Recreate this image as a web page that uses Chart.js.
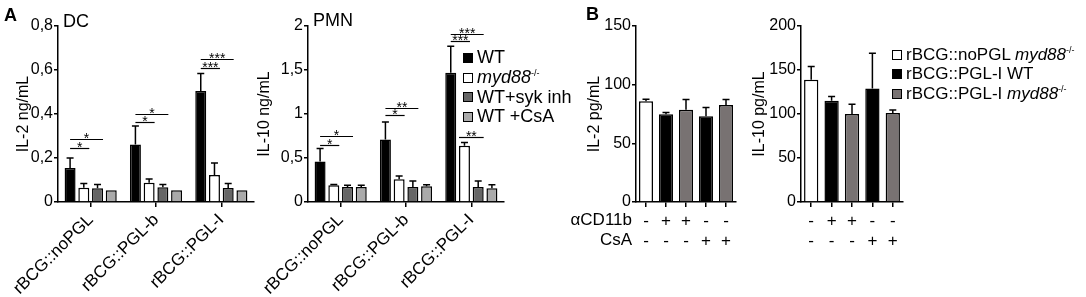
<!DOCTYPE html>
<html>
<head>
<meta charset="utf-8">
<script src="https://cdn.jsdelivr.net/npm/chart.js@4.4.0/dist/chart.umd.min.js"></script>
<style>
  body { margin: 0; background: #fff; font-family: Arial, "Liberation Sans", sans-serif; color: #000; }
  #wrap { position: relative; width: 1086px; height: 297px; overflow: hidden; }
  canvas { position: absolute; left: 0; top: 0; }
  .lbl { position: absolute; white-space: nowrap; line-height: 1; }
  .key { position: absolute; white-space: nowrap; }
  .key div { display: flex; align-items: center; }
  .sw { width: 8px; height: 8px; border: 1.5px solid #000; margin-right: 4px; flex: none; }
  sup { font-size: 9px; line-height: 0; vertical-align: 7px; }
  .row { position: absolute; font-size: 17px; line-height: 20px; text-align: right; }
</style>
</head>
<body>
<div id="wrap">
  <canvas id="dc" width="1086" height="297"></canvas>
  <canvas id="pmn" width="1086" height="297"></canvas>
  <canvas id="bil2" width="1086" height="297"></canvas>
  <canvas id="bil10" width="1086" height="297"></canvas>

  <div class="lbl" style="left:4px;top:6px;font-size:18px;font-weight:bold">A</div>
  <div class="lbl" style="left:63px;top:12px;font-size:18px">DC</div>
  <div class="lbl" style="left:313px;top:11px;font-size:18px">PMN</div>
  <div class="lbl" style="left:586px;top:5px;font-size:18px;font-weight:bold">B</div>

  <div class="key" id="keyA" style="left:463px;top:48px;font-size:18px"></div>
  <div class="key" id="keyB" style="left:892px;top:45px;font-size:17px"></div>

  <div class="row" style="right:454px;top:210px">&alpha;CD11b</div>
  <div class="row" style="right:454px;top:230px">CsA</div>
</div>
<script>
// A: groups and series
const groups = ['rBCG::noPGL', 'rBCG::PGL-b', 'rBCG::PGL-I'];
const seriesNames = ['WT', '<i>myd88</i><sup>-/-</sup>', 'WT+syk inh', 'WT +CsA'];
const seriesColors = ['#000000', '#ffffff', '#666666', '#aaaaaa'];

// DC, IL-2 ng/mL
const dcWT = [0.155, 0.261, 0.505];
const dcMyd = [0.065, 0.088, 0.123];
const dcSyk = [0.063, 0.067, 0.064];
const dcCsA = [0.053, 0.053, 0.053];
const dcWTErr = [0.045, 0.084, 0.079];
const dcMydErr = [0.019, 0.017, 0.054];
const dcSykErr = [0.016, 0.013, 0.02];
const dcCsAErr = [0, 0, 0];
const dcTicks = ['0', '0,2', '0,4', '0,6', '0,8'];
// [group, from bar, to bar, height, label]
const dcSig = [
  [0, 0, 1, 0.245, '*'], [0, 0, 2, 0.288, '*'],
  [1, 0, 1, 0.362, '*'], [1, 0, 2, 0.40, '*'],
  [2, 0, 1, 0.609, '***'], [2, 0, 2, 0.649, '***']
];

// PMN, IL-10 ng/mL
const pmnWT = [0.46, 0.709, 1.47];
const pmnMyd = [0.19, 0.258, 0.64];
const pmnSyk = [0.17, 0.17, 0.17];
const pmnCsA = [0.17, 0.18, 0.156];
const pmnWTErr = [0.147, 0.2, 0.3];
const pmnMydErr = [0.01, 0.037, 0.035];
const pmnSykErr = [0.02, 0.07, 0.07];
const pmnCsAErr = [0.02, 0.016, 0.04];
const pmnTicks = ['0', '0,5', '1', '1,5', '2'];
const pmnSig = [
  [0, 0, 1, 0.652, '*'], [0, 0, 2, 0.75, '*'],
  [1, 0, 1, 0.985, '*'], [1, 0, 2, 1.07, '**'],
  [2, 0, 1, 1.826, '***'], [2, 0, 2, 1.914, '***'],
  [2, 1, 2, 0.742, '**']
];

// B: conditions
const cd11b = ['-', '+', '+', '-', '-'];
const csa = ['-', '-', '-', '+', '+'];
const bNames = ['rBCG::noPGL <i>myd88</i><sup>-/-</sup>', 'rBCG::PGL-I WT', 'rBCG::PGL-I <i>myd88</i><sup>-/-</sup>'];
const bKeyColors = ['#ffffff', '#000000', '#787272'];
const bColors = ['#ffffff', '#000000', '#787272', '#000000', '#787272'];
const il2 = [85.8, 74.7, 78.7, 73, 82.7];
const il2Err = [1.7, 1.5, 8.6, 7.5, 4.6];
const il2Ticks = ['0', '50', '100', '150'];
const il10 = [139, 115, 100, 129, 101];
const il10Err = [15, 5, 11, 40, 3.5];
const il10Ticks = ['0', '50', '100', '150', '200'];

Chart.defaults.font.family = 'Arial, "Liberation Sans", sans-serif';
Chart.defaults.color = '#000';

// error bars and significance lines
function extras(errs, sigs) {
  return {
    id: 'extras',
    afterDatasetsDraw(chart) {
      const ctx = chart.ctx;
      const y = chart.scales.y;
      ctx.save();
      ctx.strokeStyle = '#000';
      ctx.lineWidth = 1.5;
      errs.forEach((arr, d) => {
        const meta = chart.getDatasetMeta(d);
        meta.data.forEach((bar, i) => {
          const e = arr[i];
          if (!e) return;
          const v = chart.data.datasets[d].data[i];
          const top = y.getPixelForValue(v + e);
          ctx.beginPath();
          ctx.moveTo(bar.x, bar.y);
          ctx.lineTo(bar.x, top);
          ctx.moveTo(bar.x - 3.5, top);
          ctx.lineTo(bar.x + 3.5, top);
          ctx.stroke();
        });
      });
      ctx.lineWidth = 1.2;
      ctx.fillStyle = '#000';
      ctx.font = '14px Arial, "Liberation Sans", sans-serif';
      ctx.textAlign = 'center';
      ctx.textBaseline = 'alphabetic';
      sigs.forEach(([g, a, b, v, label]) => {
        const barA = chart.getDatasetMeta(a).data[g];
        const barB = chart.getDatasetMeta(b).data[g];
        const x1 = a === 0 ? barA.x : barA.x - barA.width / 2;
        const x2 = barB.x + barB.width / 2;
        const py = Math.round(y.getPixelForValue(v)) + 0.5;
        ctx.beginPath();
        ctx.moveTo(x1, py);
        ctx.lineTo(x2, py);
        ctx.stroke();
        ctx.fillText(label, (x1 + x2) / 2, py + 3);
      });
      ctx.restore();
    }
  };
}

function makeChart(id, cfg) {
  return new Chart(document.getElementById(id), {
    type: 'bar',
    data: { labels: cfg.labels, datasets: cfg.datasets },
    plugins: [extras(cfg.errs, cfg.sigs)],
    options: {
      responsive: false,
      animation: false,
      devicePixelRatio: 1,
      layout: { padding: { left: cfg.padLeft, right: 1086 - cfg.right, top: 26, bottom: 0 } },
      plugins: { legend: { display: false }, tooltip: { enabled: false } },
      scales: {
        x: {
          offset: true,
          grid: { display: true, drawOnChartArea: false, offset: false, tickLength: 5, color: '#000', lineWidth: 1.5 },
          border: { color: '#000', width: 1.5 },
          ticks: cfg.xTicks,
          afterFit: s => { s.height = 95; }
        },
        y: {
          min: 0,
          max: cfg.max,
          grid: { drawOnChartArea: false, tickLength: 4, color: '#000', lineWidth: 1.5 },
          border: { color: '#000', width: 1.5 },
          ticks: { stepSize: cfg.step, padding: 1, color: '#000', font: { size: 16 }, callback: (v, i) => cfg.ticks[i] },
          title: { display: true, text: cfg.title, color: '#000', font: { size: 16 }, padding: { top: 4, bottom: 0 } },
          afterFit: s => { s.width = cfg.yWidth; }
        }
      }
    }
  });
}

function groupSets(series) {
  return series.map((data, k) => ({
    label: seriesNames[k],
    data: data,
    backgroundColor: seriesColors[k],
    borderColor: '#000',
    borderWidth: 1.5,
    categoryPercentage: 0.84,
    barPercentage: 0.8
  }));
}

const rotTicks = { minRotation: 45, maxRotation: 45, autoSkip: false, padding: 3, color: '#000', font: { size: 17 } };
const condLabels = cd11b.map((c, i) => [c, csa[i]]);
const condTicks = { maxRotation: 0, autoSkip: false, padding: 4, color: '#000', font: { size: 17, lineHeight: 1.18 } };

makeChart('dc', {
  labels: groups,
  datasets: groupSets([dcWT, dcMyd, dcSyk, dcCsA]),
  errs: [dcWTErr, dcMydErr, dcSykErr, dcCsAErr],
  sigs: dcSig,
  padLeft: 10, yWidth: 48, right: 254,
  max: 0.8, step: 0.2, ticks: dcTicks, title: 'IL-2 ng/mL',
  xTicks: rotTicks
});

makeChart('pmn', {
  labels: groups,
  datasets: groupSets([pmnWT, pmnMyd, pmnSyk, pmnCsA]),
  errs: [pmnWTErr, pmnMydErr, pmnSykErr, pmnCsAErr],
  sigs: pmnSig,
  padLeft: 251, yWidth: 57, right: 504,
  max: 2, step: 0.5, ticks: pmnTicks, title: 'IL-10 ng/mL',
  xTicks: rotTicks
});

function condSet(data) {
  return [{
    data: data,
    backgroundColor: bColors,
    borderColor: '#000',
    borderWidth: 1.5,
    categoryPercentage: 1,
    barPercentage: 0.7
  }];
}

makeChart('bil2', {
  labels: condLabels,
  datasets: condSet(il2),
  errs: [il2Err],
  sigs: [],
  padLeft: 581, yWidth: 55, right: 736,
  max: 150, step: 50, ticks: il2Ticks, title: 'IL-2 pg/mL',
  xTicks: condTicks
});

makeChart('bil10', {
  labels: condLabels,
  datasets: condSet(il10),
  errs: [il10Err],
  sigs: [],
  padLeft: 746, yWidth: 55, right: 903,
  max: 200, step: 50, ticks: il10Ticks, title: 'IL-10 pg/mL',
  xTicks: condTicks
});

// legends
function fillKey(id, names, colors, rowH) {
  const box = document.getElementById(id);
  names.forEach((n, i) => {
    const row = document.createElement('div');
    row.style.height = rowH + 'px';
    row.innerHTML = '<span class="sw" style="background:' + colors[i] + '"></span><span>' + n + '</span>';
    box.appendChild(row);
  });
}
fillKey('keyA', seriesNames, seriesColors, 19.7);
fillKey('keyB', bNames, bKeyColors, 19.5);
</script>
</body>
</html>
